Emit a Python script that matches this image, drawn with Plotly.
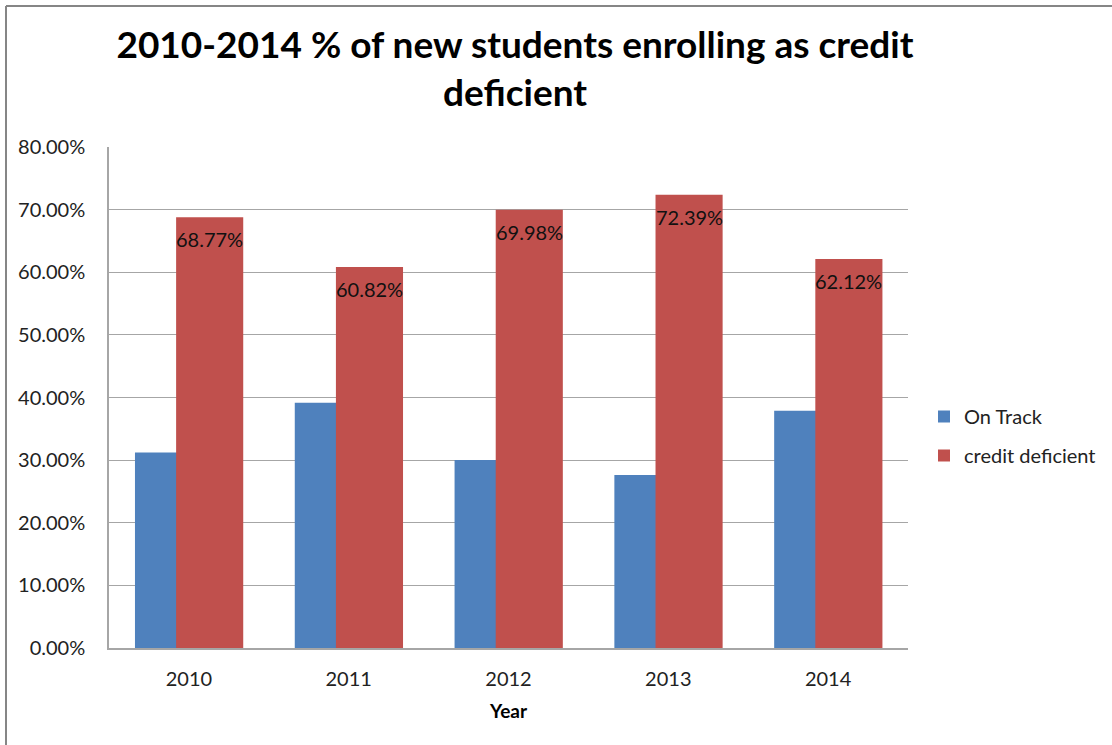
import plotly.graph_objects as go

years = ["2010", "2011", "2012", "2013", "2014"]
on_track = [31.23, 39.18, 30.02, 27.61, 37.88]
credit_deficient = [68.77, 60.82, 69.98, 72.39, 62.12]
y_ticks = [0, 10, 20, 30, 40, 50, 60, 70, 80]

BLUE = "#4F81BD"
RED = "#C0504D"
FONT = "Lato"
TXT = "#222222"

BAR_W = 0.42
BLUE_OFF = -0.3375
RED_OFF = -0.08

fig = go.Figure()
fig.add_trace(go.Bar(
    name="On Track", x=years, y=on_track, legendgroup="a",
    marker=dict(color=BLUE, line=dict(width=0)),
    width=BAR_W, offset=BLUE_OFF,
))
fig.add_trace(go.Bar(
    name="credit deficient", x=years, y=credit_deficient, legendgroup="b",
    marker=dict(color=RED, line=dict(width=0)),
    width=BAR_W, offset=RED_OFF,
))

# value labels just inside the top of each red bar (x given as category index)
for i, v in enumerate(credit_deficient):
    fig.add_annotation(
        x=i + RED_OFF + BAR_W / 2, y=v, xref="x", yref="y",
        text=f"{v:.2f}%", showarrow=False,
        yshift=-22, yanchor="middle",
        font=dict(family=FONT, size=20, color="#111111"),
    )

# outer chart frame (top and left edges)
L, R, T, B = 109, 908, 147, 648
W, H = 1112, 745
pw, ph = R - L, B - T
fx = (6 - L) / pw
fy = (B - 6) / ph
fig.add_shape(type="line", xref="paper", yref="paper",
              x0=fx, x1=fx, y0=-1, y1=fy, line=dict(color="#868686", width=2))
fig.add_shape(type="line", xref="paper", yref="paper",
              x0=fx, x1=2, y0=fy, y1=fy, line=dict(color="#868686", width=2))

fig.update_layout(
    width=W, height=H,
    margin=dict(l=L, r=W - R, t=T, b=H - B, autoexpand=False),
    paper_bgcolor="white", plot_bgcolor="white",
    barmode="overlay",
    title=dict(
        text="<b>2010-2014 % of new students enrolling as credit<br>deficient</b>",
        font=dict(family=FONT, size=37, color="black"),
        x=515 / W, xanchor="center",
        yref="container", y=1 - 58 / H, yanchor="middle",
    ),
    font=dict(family=FONT, size=20, color=TXT),
    legend=dict(
        xref="container", yref="container",
        x=924 / W, y=1 - 436 / H, xanchor="left", yanchor="middle",
        font=dict(family=FONT, size=20, color=TXT),
        traceorder="grouped", tracegroupgap=10, itemsizing="constant",
    ),
    showlegend=True,
)
fig.update_xaxes(
    type="category", categoryorder="array", categoryarray=years,
    range=[-0.5, len(years) - 0.5],
    showgrid=False, ticks="",
    showline=True, linecolor="#A6A6A6", linewidth=1.5,
    tickfont=dict(family=FONT, size=20, color=TXT),
    ticklabelstandoff=12,
    title=dict(text="<b>Year</b>", font=dict(family=FONT, size=19, color="black"), standoff=16),
)
fig.update_yaxes(
    range=[0, 80], tickvals=y_ticks,
    ticktext=[f"{v:.2f}%" for v in y_ticks],
    showgrid=True, gridcolor="#A6A6A6", gridwidth=1,
    showline=True, linecolor="#A6A6A6", linewidth=1.5,
    zeroline=False, ticks="", ticklabelstandoff=18,
    tickfont=dict(family=FONT, size=20, color=TXT),
)

fig.write_html("out.html")
